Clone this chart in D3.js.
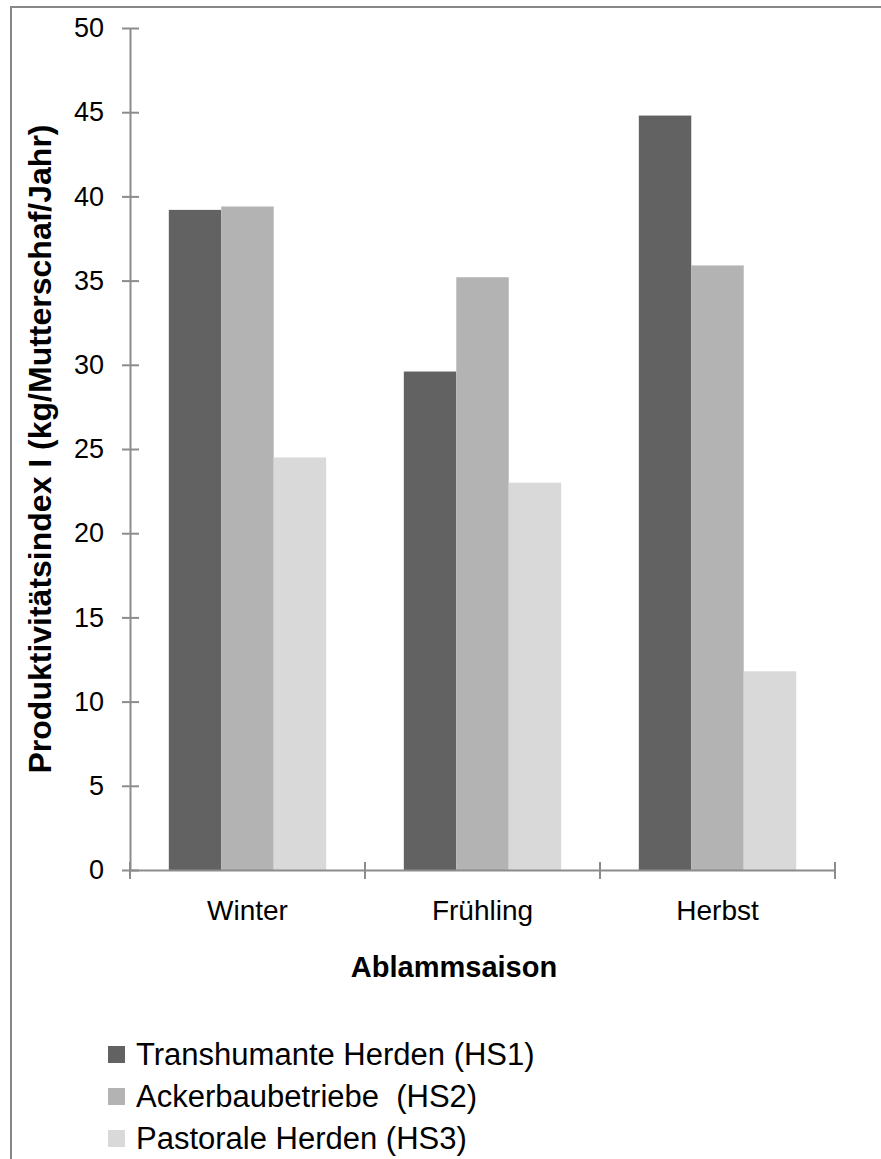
<!DOCTYPE html>
<html lang="de">
<head>
  <meta charset="utf-8">
  <title>Produktivitätsindex I</title>
  <script src="https://d3js.org/d3.v7.min.js"></script>
  <style>
    body { margin: 0; background: #fff; }
    text { font-family: "Liberation Sans", Arial, sans-serif; fill: #000; }
  </style>
</head>
<body>
<script>
  // data
  var seasons = ["Winter", "Frühling", "Herbst"];
  var seriesNames = ["Transhumante Herden (HS1)", "Ackerbaubetriebe  (HS2)", "Pastorale Herden (HS3)"];
  var hs1 = [39.2, 29.6, 44.8];
  var hs2 = [39.4, 35.2, 35.9];
  var hs3 = [24.5, 23.0, 11.8];
  var yTicks = [0, 5, 10, 15, 20, 25, 30, 35, 40, 45, 50];
  var colors = ["#626262", "#b3b3b3", "#d9d9d9"];

  var width = 881, height = 1159;
  var series = [hs1, hs2, hs3];

  var svg = d3.select("body").append("svg")
    .attr("width", width)
    .attr("height", height);

  // outer frame of the chart (runs off the right and bottom edge)
  svg.append("rect")
    .attr("x", 11).attr("y", 7)
    .attr("width", 900).attr("height", 1200)
    .attr("fill", "none")
    .attr("stroke", "#878787")
    .attr("stroke-width", 2);

  var x = d3.scaleBand().domain(seasons).range([130, 835]);
  var xInner = d3.scaleBand().domain([0, 1, 2])
    .range([0, x.bandwidth()])
    .paddingOuter(0.74);
  var y = d3.scaleLinear().domain([0, 50]).range([870, 28]);

  // bars
  var groups = svg.append("g").selectAll("g")
    .data(seasons)
    .enter().append("g")
    .attr("transform", function(d) { return "translate(" + x(d) + ",0)"; });

  groups.selectAll("rect")
    .data(function(d, i) { return series.map(function(s, k) { return {k: k, v: s[i]}; }); })
    .enter().append("rect")
    .attr("x", function(d) { return xInner(d.k); })
    .attr("width", xInner.bandwidth())
    .attr("y", function(d) { return y(d.v); })
    .attr("height", function(d) { return y(0) - y(d.v); })
    .attr("fill", function(d) { return colors[d.k]; });

  // y axis, ticks cross the line
  var yAxis = svg.append("g")
    .attr("transform", "translate(130,0)")
    .call(d3.axisLeft(y).tickValues(yTicks).tickSizeInner(8).tickSizeOuter(0).tickPadding(20));
  yAxis.select(".domain").attr("stroke", "#8c8c8c").attr("stroke-width", 2);
  yAxis.selectAll(".tick line").attr("x2", 9).attr("x1", -8)
    .attr("stroke", "#8c8c8c").attr("stroke-width", 2);
  yAxis.selectAll(".tick text")
    .attr("x", -26)
    .style("font-family", "'Liberation Sans', Arial, sans-serif")
    .style("font-size", "27px").attr("fill", "#000");

  // x axis with ticks at the category boundaries
  var xAxis = svg.append("g")
    .attr("transform", "translate(0," + y(0) + ")")
    .call(d3.axisBottom(x).tickSize(0).tickPadding(30));
  xAxis.select(".domain").attr("stroke", "#8c8c8c").attr("stroke-width", 2);
  xAxis.selectAll(".tick text")
    .style("font-family", "'Liberation Sans', Arial, sans-serif")
    .style("font-size", "28px").attr("fill", "#000");

  var bounds = seasons.map(function(d) { return x(d); }).concat([x.range()[1]]);
  xAxis.selectAll(".bound")
    .data(bounds)
    .enter().append("line")
    .attr("class", "bound")
    .attr("x1", function(d) { return d; }).attr("x2", function(d) { return d; })
    .attr("y1", -8).attr("y2", 9)
    .attr("stroke", "#8c8c8c").attr("stroke-width", 2);

  // axis titles
  svg.append("text")
    .attr("x", 454).attr("y", 977)
    .attr("text-anchor", "middle")
    .style("font-size", "29px").style("font-weight", "bold")
    .text("Ablammsaison");

  svg.append("text")
    .attr("transform", "translate(51," + (y(25)) + ") rotate(-90)")
    .attr("text-anchor", "middle")
    .style("font-size", "32px").style("font-weight", "bold")
    .text("Produktivitätsindex I (kg/Mutterschaf/Jahr)");

  // legend
  var legend = svg.append("g").selectAll("g")
    .data(seriesNames)
    .enter().append("g")
    .attr("transform", function(d, i) { return "translate(108," + (1055 + i * 42) + ")"; });

  legend.append("rect")
    .attr("x", 0).attr("y", -9)
    .attr("width", 17).attr("height", 17)
    .attr("fill", function(d, i) { return colors[i]; });

  legend.append("text")
    .attr("x", 28).attr("y", 10)
    .style("font-size", "31px")
    .style("white-space", "pre")
    .attr("xml:space", "preserve")
    .text(function(d) { return d; });
</script>
</body>
</html>
